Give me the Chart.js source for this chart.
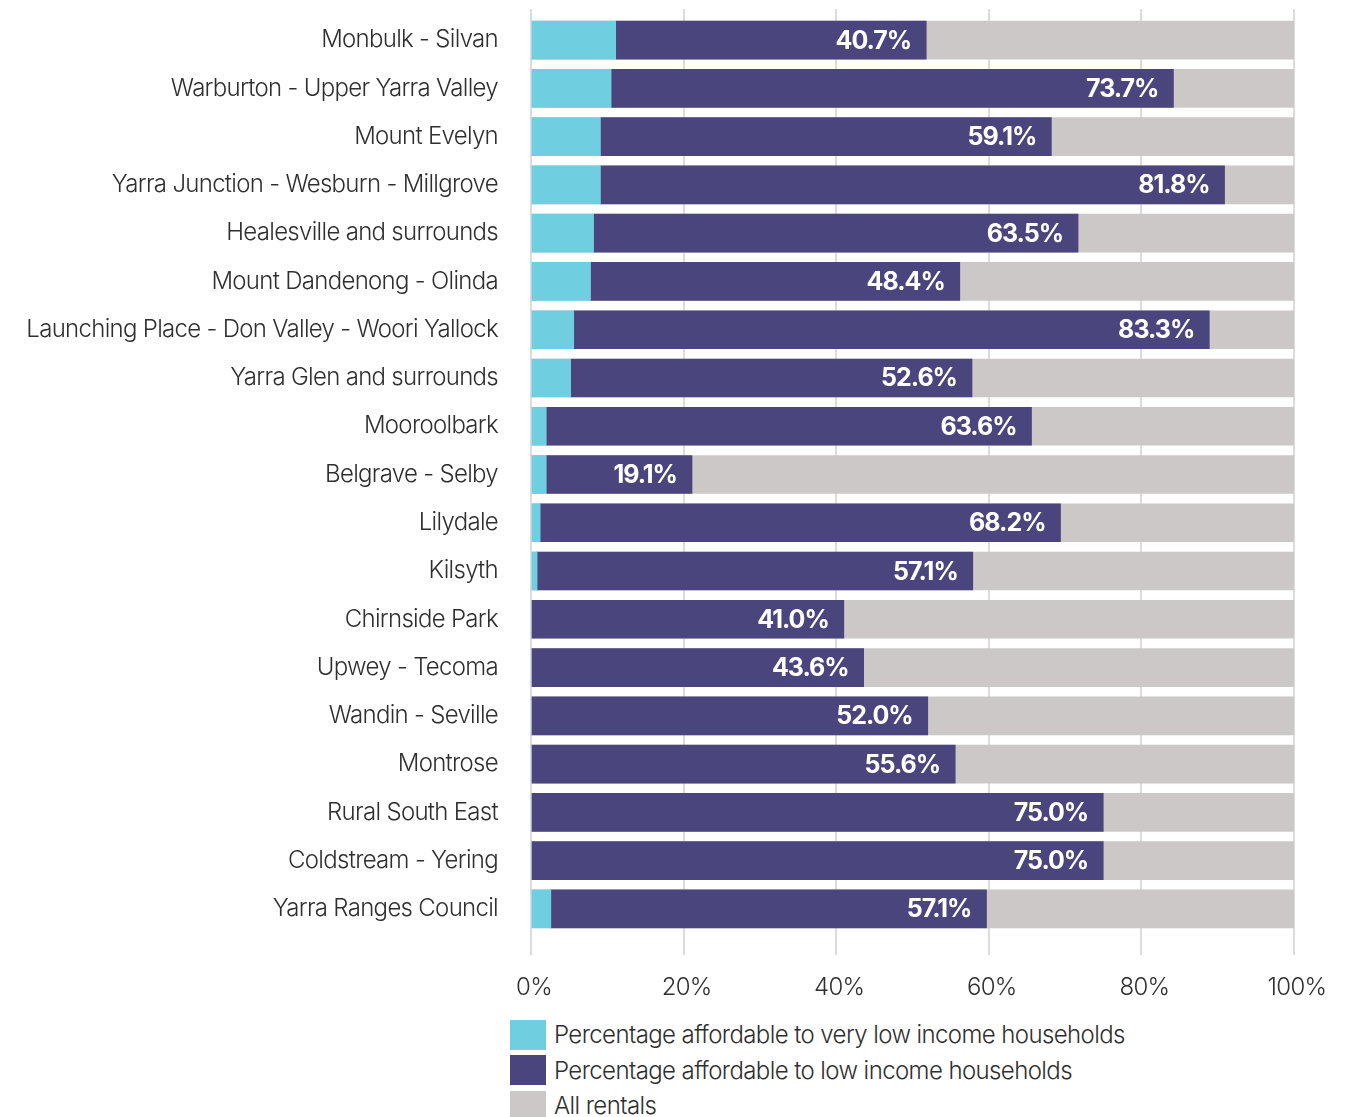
<!DOCTYPE html>
<html>
<head>
<meta charset="utf-8">
<script src="https://cdn.jsdelivr.net/npm/chart.js@4.4.1/dist/chart.umd.min.js"></script>
<style>
  html, body { margin: 0; padding: 0; background: #ffffff; }
  #wrap { position: relative; width: 1360px; height: 1117px; overflow: hidden; }
  #chart { position: absolute; left: 0; top: 0; }
  #legend { position: absolute; left: 510px; top: 1017px; font-family: Inter, "Noto Sans", sans-serif; font-weight: 300; font-size: 24px; color: #2f2f2f; letter-spacing: -0.6px; }
  .item { display: flex; align-items: center; height: 35.5px; }
  .swatch { width: 36px; height: 30px; margin-right: 8px; flex: none; }
</style>
</head>
<body>
<div id="wrap">
  <canvas id="chart" width="1360" height="1005"></canvas>
  <div id="legend"></div>
</div>
<script>
// Areas, top to bottom
const areas = [
  'Monbulk - Silvan',
  'Warburton - Upper Yarra Valley',
  'Mount Evelyn',
  'Yarra Junction - Wesburn - Millgrove',
  'Healesville and surrounds',
  'Mount Dandenong - Olinda',
  'Launching Place - Don Valley - Woori Yallock',
  'Yarra Glen and surrounds',
  'Mooroolbark',
  'Belgrave - Selby',
  'Lilydale',
  'Kilsyth',
  'Chirnside Park',
  'Upwey - Tecoma',
  'Wandin - Seville',
  'Montrose',
  'Rural South East',
  'Coldstream - Yering',
  'Yarra Ranges Council'
];

// Share of rentals affordable to very low income households (%)
const veryLowIncome = [11.1, 10.5, 9.1, 9.1, 8.2, 7.8, 5.6, 5.2, 2.0, 2.0, 1.2, 0.8, 0, 0, 0, 0, 0, 0, 2.6];

// Share of rentals affordable to low income households (%)
const lowIncome = [40.7, 73.7, 59.1, 81.8, 63.5, 48.4, 83.3, 52.6, 63.6, 19.1, 68.2, 57.1, 41.0, 43.6, 52.0, 55.6, 75.0, 75.0, 57.1];

// All rentals (%)
const allRentals = [100, 100, 100, 100, 100, 100, 100, 100, 100, 100, 100, 100, 100, 100, 100, 100, 100, 100, 100];

const xTicks = [0, 20, 40, 60, 80, 100];

const seriesNames = [
  'Percentage affordable to very low income households',
  'Percentage affordable to low income households',
  'All rentals'
];

const CYAN = '#6fcfe0';
const PURPLE = '#4a467d';
const GREY = '#ccc8c7';
const GRID = '#dcdcdc';
const TEXT = '#2f2f2f';
const FONT = 'Inter, "Noto Sans", sans-serif';

// Tighter tracking for every piece of canvas text
const tracking = {
  id: 'tracking',
  beforeLayout(chart) { chart.ctx.letterSpacing = '-0.7px'; },
  beforeDraw(chart) { chart.ctx.letterSpacing = '-0.7px'; }
};

// Continue the vertical grid lines a little above the plot area
const gridCap = {
  id: 'gridCap',
  beforeDatasetsDraw(chart) {
    const { ctx, chartArea, scales } = chart;
    ctx.save();
    ctx.strokeStyle = GRID;
    ctx.lineWidth = 2;
    xTicks.forEach(v => {
      const px = Math.round(scales.x.getPixelForValue(v));
      ctx.beginPath();
      ctx.moveTo(px, 9);
      ctx.lineTo(px, chartArea.top + 1);
      ctx.stroke();
    });
    ctx.restore();
  }
};

// White value labels at the end of the low income segment
const valueLabels = {
  id: 'valueLabels',
  afterDatasetsDraw(chart) {
    const { ctx } = chart;
    const meta = chart.getDatasetMeta(1);
    ctx.save();
    ctx.letterSpacing = '-1px';
    ctx.font = '700 25px ' + FONT;
    ctx.fillStyle = '#ffffff';
    ctx.textAlign = 'right';
    ctx.textBaseline = 'middle';
    meta.data.forEach((bar, i) => {
      ctx.fillText(lowIncome[i].toFixed(1) + '%', bar.x - 15, bar.y + 1);
    });
    ctx.restore();
  }
};

const chart = new Chart(document.getElementById('chart'), {
  type: 'bar',
  data: {
    labels: areas,
    datasets: [
      { label: seriesNames[0], data: veryLowIncome, backgroundColor: CYAN, stack: 'share' },
      { label: seriesNames[1], data: lowIncome, backgroundColor: PURPLE, stack: 'share' },
      { label: seriesNames[2], data: allRentals, backgroundColor: GREY, stack: 'total' }
    ]
  },
  options: {
    indexAxis: 'y',
    responsive: false,
    animation: false,
    events: [],
    grouped: false,
    barThickness: 38,
    borderWidth: 0,
    layout: { padding: { top: 16, right: 66, left: 0, bottom: 0 } },
    plugins: {
      legend: { display: false },
      tooltip: { enabled: false }
    },
    scales: {
      x: {
        stacked: true,
        min: 0,
        max: 100,
        afterBuildTicks(scale) { scale.ticks = xTicks.map(v => ({ value: v })); },
        afterFit(scale) { scale.height = 72; scale.paddingLeft = 0; scale.paddingRight = 0; },
        grid: { color: GRID, lineWidth: 2, drawTicks: true, tickLength: 22, tickColor: GRID },
        border: { display: false },
        ticks: {
          padding: 18,
          labelOffset: 3,
          color: TEXT,
          font: { family: FONT, size: 24, weight: 300 },
          callback: v => v + '%',
          maxRotation: 0
        }
      },
      y: {
        stacked: true,
        grid: { display: false, drawTicks: false },
        border: { display: false },
        afterFit(scale) { scale.width = 531; scale.paddingTop = 0; scale.paddingBottom = 0; },
        ticks: {
          padding: 33,
          color: TEXT,
          font: { family: FONT, size: 24, weight: 300 },
          autoSkip: false
        }
      }
    }
  },
  plugins: [tracking, gridCap, valueLabels]
});

// Legend, stacked as a vertical list below the axis
const legend = document.getElementById('legend');
chart.data.datasets.forEach(ds => {
  const row = document.createElement('div');
  row.className = 'item';
  const sw = document.createElement('span');
  sw.className = 'swatch';
  sw.style.background = ds.backgroundColor;
  const txt = document.createElement('span');
  txt.textContent = ds.label;
  row.appendChild(sw);
  row.appendChild(txt);
  legend.appendChild(row);
});
</script>
</body>
</html>
